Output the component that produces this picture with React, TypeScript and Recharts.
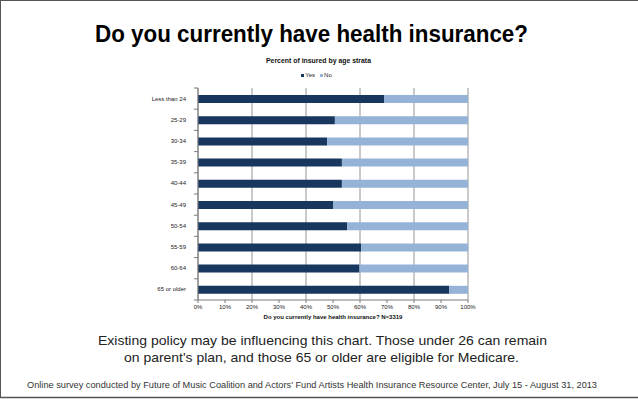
import React from 'react';
import { BarChart, Bar, XAxis, YAxis, CartesianGrid, Legend } from 'recharts';

// values (percent of respondents)
const AGE_GROUPS = ['Less than 24', '25-29', '30-34', '35-39', '40-44', '45-49', '50-54', '55-59', '60-64', '65 or older'];
const YES = [68.9, 50.7, 47.8, 53.3, 53.3, 50.0, 55.2, 60.4, 59.8, 93.1];
const NO = [31.1, 49.3, 52.2, 46.7, 46.7, 50.0, 44.8, 39.6, 40.2, 6.9];
const SERIES = ['Yes', 'No'];
const X_TICKS = [0, 10, 20, 30, 40, 50, 60, 70, 80, 90, 100];

const data = AGE_GROUPS.map((age, i) => ({ age, Yes: YES[i], No: NO[i] }));

const W = 638;
const H = 399;
const MARGIN = { top: 88, right: 170, bottom: 77, left: 138 };
const Y_AXIS_W = 60;
const X_AXIS_H = 22;
const PLOT_H = H - MARGIN.top - MARGIN.bottom - X_AXIS_H;
const BAND = PLOT_H / AGE_GROUPS.length;
const TICK_SIZE = 4;
const TICK_MARGIN = 8;

const FONT = '"Liberation Sans", Arial, Helvetica, sans-serif';
const DARK = '#17375E';
const LIGHT = '#95B3D7';
const GRID = '#7a7a7a';

// category ticks sit between the bands, like the Excel original
const AgeTick = (props: any) => {
  const { x, y, payload, index } = props;
  const axisX = x + TICK_SIZE + TICK_MARGIN;
  return (
    <g>
      <text x={x} y={y} textAnchor="end" dominantBaseline="central" fontSize={6} fill="#222" fontFamily={FONT}>
        {payload.value}
      </text>
      <line x1={axisX - TICK_SIZE} x2={axisX} y1={y - BAND / 2} y2={y - BAND / 2} stroke={GRID} />
      {index === AGE_GROUPS.length - 1 && (
        <line x1={axisX - TICK_SIZE} x2={axisX} y1={y + BAND / 2} y2={y + BAND / 2} stroke={GRID} />
      )}
    </g>
  );
};

const LegendContent = (props: any) => {
  const items = [...(props.payload || [])].sort(
    (a: any, b: any) => SERIES.indexOf(a.value) - SERIES.indexOf(b.value)
  );
  return (
    <div style={{ textAlign: 'center', fontSize: 6, lineHeight: '8px', fontFamily: FONT, color: '#222' }}>
      {items.map((entry: any) => (
        <span key={entry.value} style={{ marginRight: 5 }}>
          <span style={{ display: 'inline-block', width: 3, height: 3, background: entry.color, marginRight: 1, verticalAlign: 'middle' }} />
          {entry.value}
        </span>
      ))}
    </div>
  );
};

const App: React.FC = () => {
  return (
    <div style={{ position: 'absolute', left: 0, top: 0, width: W, height: H, background: '#fff', fontFamily: FONT }}>
      <BarChart width={W} height={H} data={data} layout="vertical" margin={MARGIN}>
        <CartesianGrid horizontal={false} stroke={GRID} strokeWidth={0.8} />
        <XAxis
          type="number"
          domain={[0, 100]}
          ticks={X_TICKS}
          tickFormatter={(v: number) => `${v}%`}
          height={X_AXIS_H}
          tick={{ fontSize: 6, fill: '#222', fontFamily: FONT }}
          tickSize={3}
          tickMargin={2}
          stroke={GRID}
          label={{
            value: 'Do you currently have health insurance? N=3319',
            position: 'insideBottom',
            offset: 3,
            fontSize: 6,
            fontWeight: 'bold',
            fill: '#111',
            fontFamily: FONT,
          }}
        />
        <YAxis
          type="category"
          dataKey="age"
          width={Y_AXIS_W}
          tickLine={false}
          tickSize={TICK_SIZE}
          tickMargin={TICK_MARGIN}
          tick={<AgeTick />}
          stroke={GRID}
          interval={0}
        />
        <Legend
          verticalAlign="middle"
          align="center"
          layout="horizontal"
          content={<LegendContent />}
          wrapperStyle={{ top: 71, left: 0, width: W, height: 8 }}
        />
        <Bar dataKey="Yes" stackId="a" fill={DARK} barSize={8} isAnimationActive={false} />
        <Bar dataKey="No" stackId="a" fill={LIGHT} barSize={8} isAnimationActive={false} />
      </BarChart>

      <svg width={W} height={H} style={{ position: 'absolute', left: 0, top: 0, pointerEvents: 'none' }}>
        <line x1={0} x2={W} y1={0.5} y2={0.5} stroke="#555" />
        <line x1={0.5} x2={0.5} y1={0} y2={398} stroke="#555" />
        <line x1={0} x2={W} y1={397.5} y2={397.5} stroke="#555" strokeWidth={1.5} />
        <text x={311.5} y={42} textAnchor="middle" fontSize={23} fontWeight="bold" fill="#000" fontFamily={FONT} textLength={433} lengthAdjust="spacingAndGlyphs">
          Do you currently have health insurance?
        </text>
        <text x={318.5} y={62.5} textAnchor="middle" fontSize={7} fontWeight="bold" fill="#111" fontFamily={FONT} textLength={105} lengthAdjust="spacingAndGlyphs">
          Percent of insured by age strata
        </text>
        <text x={322.5} y={345} textAnchor="middle" fontSize={13.5} fill="#222" fontFamily={FONT} textLength={449} lengthAdjust="spacingAndGlyphs">
          Existing policy may be influencing this chart. Those under 26 can remain
        </text>
        <text x={321.5} y={361.5} textAnchor="middle" fontSize={13.5} fill="#222" fontFamily={FONT} textLength={395} lengthAdjust="spacingAndGlyphs">
          on parent's plan, and those 65 or older are eligible for Medicare.
        </text>
        <text x={312} y={388} textAnchor="middle" fontSize={9.5} fill="#333" fontFamily={FONT} textLength={570} lengthAdjust="spacingAndGlyphs">
          Online survey conducted by Future of Music Coalition and Actors' Fund Artists Health Insurance Resource Center, July 15 - August 31, 2013
        </text>
      </svg>
    </div>
  );
};

export default App;
